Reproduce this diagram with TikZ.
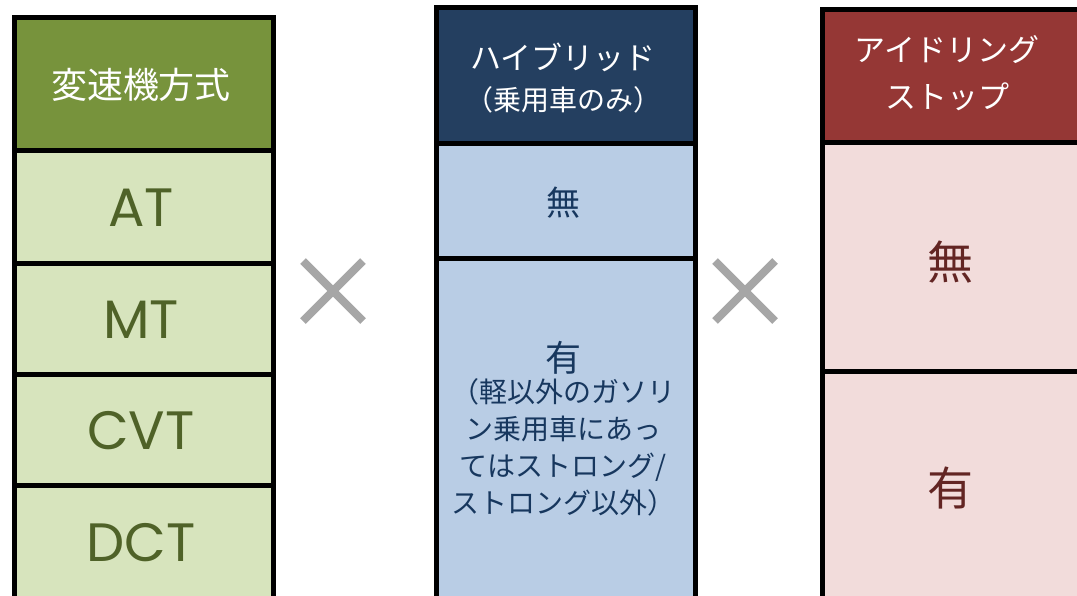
\documentclass[tikz,border=0pt]{standalone}
\usepackage{fontspec}
\setmainfont{Noto Sans CJK JP}
\newfontfamily\latinfont{Poppins}
\definecolor{ghead}{HTML}{77933C}
\definecolor{gcell}{HTML}{D7E4BD}
\definecolor{gtext}{HTML}{4F6228}
\definecolor{bhead}{HTML}{243F60}
\definecolor{bcell}{HTML}{B9CDE5}
\definecolor{btext}{HTML}{17375E}
\definecolor{rhead}{HTML}{953735}
\definecolor{rcell}{HTML}{F2DCDB}
\definecolor{rtext}{HTML}{632523}
\definecolor{xgray}{HTML}{A6A6A6}
\tikzset{
  cell/.style={draw=black,line width=4.5pt,rectangle,inner sep=0pt,anchor=north west},
  crossline/.style={draw=xgray,line width=8pt},
  txt/.style={inner sep=0pt,align=center},
  lat/.style={txt,text=gtext,font=\latinfont\fontsize{54}{60}\selectfont}
}
\begin{document}
\begin{tikzpicture}[x=1pt,y=-1pt]
\useasboundingbox (0,0) rectangle (1077,595);
\clip (0,0) rectangle (1077,595);
% left column
\node[cell,fill=ghead,minimum width=259pt,minimum height=133pt] (lh) at (12,15) {};
\node[cell,fill=gcell,minimum width=259pt,minimum height=113pt] (l1) at (12,148) {};
\node[cell,fill=gcell,minimum width=259pt,minimum height=111pt] (l2) at (12,261) {};
\node[cell,fill=gcell,minimum width=259pt,minimum height=111pt] (l3) at (12,372) {};
\node[cell,fill=gcell,minimum width=259pt,minimum height=120pt] (l4) at (12,483) {};
\node[txt,text=white,font=\fontsize{36}{43}\selectfont] (lht) at (141,85) {変速機方式};
\node[lat] (l1t) at (141,208) {AT};
\node[lat] (l2t) at (141,320) {MT};
\node[lat] (l3t) at (141,431) {CVT};
\node[lat] (l4t) at (141,543) {DCT};
% middle column
\node[cell,fill=bhead,minimum width=259pt,minimum height=136pt] (mh) at (434,5) {};
\node[cell,fill=bcell,minimum width=259pt,minimum height=115pt] (m1) at (434,141) {};
\node[cell,fill=bcell,minimum width=259pt,minimum height=350pt] (m2) at (434,256) {};
\node[txt,text=white,font=\fontsize{31}{37}\selectfont] (mht1) at (563,57) {ハイブリッド};
\node[txt,text=white,font=\fontsize{28}{33}\selectfont] (mht2) at (563,100) {（乗用車のみ）};
\node[txt,text=btext,font=\fontsize{34}{40}\selectfont] (m1t) at (563,203) {無};
\node[txt,text=btext,font=\fontsize{36}{42}\selectfont] (m2t) at (563,358) {有};
\node[txt,text=btext,font=\fontsize{28}{37}\selectfont,anchor=north] (m2s) at (563,378)
  {（軽以外のガソリ\\ン乗用車にあっ\\てはストロング/\\ストロング以外）};
% right column
\node[cell,fill=rhead,minimum width=265pt,minimum height=133pt] (rh) at (820,7) {};
\node[cell,fill=rcell,minimum width=265pt,minimum height=229pt] (r1) at (820,140) {};
\node[cell,fill=rcell,minimum width=265pt,minimum height=240pt] (r2) at (820,369) {};
\node[txt,text=white,font=\fontsize{31}{37}\selectfont] (rht1) at (947,50) {アイドリング};
\node[txt,text=white,font=\fontsize{31}{37}\selectfont] (rht2) at (947,97) {ストップ};
\node[txt,text=rtext,font=\fontsize{46}{52}\selectfont] (r1t) at (950,262) {無};
\node[txt,text=rtext,font=\fontsize{46}{52}\selectfont] (r2t) at (950,488) {有};
% crosses
\coordinate (xa1) at (303,261); \coordinate (xa2) at (363,321);
\coordinate (xa3) at (303,321); \coordinate (xa4) at (363,261);
\draw[crossline] (xa1) -- (xa2); \draw[crossline] (xa3) -- (xa4);
\coordinate (xb1) at (715,261); \coordinate (xb2) at (775,321);
\coordinate (xb3) at (715,321); \coordinate (xb4) at (775,261);
\draw[crossline] (xb1) -- (xb2); \draw[crossline] (xb3) -- (xb4);
\end{tikzpicture}
\end{document}
